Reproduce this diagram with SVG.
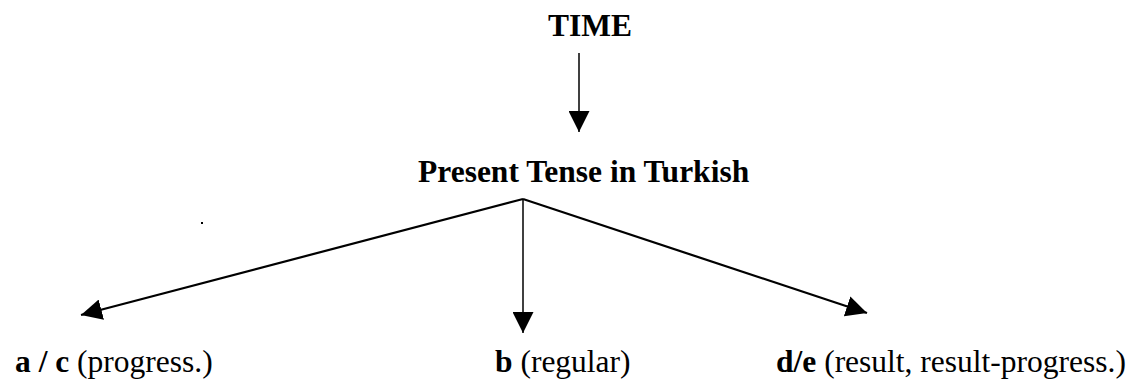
<svg xmlns="http://www.w3.org/2000/svg" width="1134" height="381" viewBox="0 0 1134 381">
<style>
text{font-family:"Liberation Serif","Times New Roman",serif;font-size:31.5px;fill:#000}
.b{font-weight:bold}
.con{stroke:#000;fill:none;marker-end:url(#ah)}
</style>
<defs>
<marker id="ah" viewBox="0 0 21 21" refX="21" refY="10.5" markerWidth="21" markerHeight="21" markerUnits="userSpaceOnUse" orient="auto">
<path d="M0,0 L21,10.5 L0,21 z" fill="#000"/>
</marker>
</defs>
<rect width="1134" height="381" fill="#fff"/>
<g id="node-time"><text class="b" x="548" y="36">TIME</text></g>
<g id="node-present"><text class="b" x="418" y="182">Present Tense in Turkish</text></g>
<g id="node-ac"><text x="15" y="372"><tspan class="b">a / c</tspan> (progress.)</text></g>
<g id="node-b"><text x="495" y="372"><tspan class="b">b</tspan> (regular)</text></g>
<g id="node-de"><text x="776" y="372"><tspan class="b">d/e</tspan> (result, result-progress.)</text></g>
<g id="connectors">
<line class="con" x1="579" y1="53" x2="579" y2="132" stroke-width="1.5"/>
<line class="con" x1="523" y1="199" x2="81" y2="315" stroke-width="2.2"/>
<line class="con" x1="523" y1="199" x2="523" y2="333" stroke-width="1.5"/>
<line class="con" x1="523" y1="199" x2="867" y2="313" stroke-width="2.2"/>
</g>
<rect x="201" y="222" width="2" height="2" fill="#000"/>
</svg>
